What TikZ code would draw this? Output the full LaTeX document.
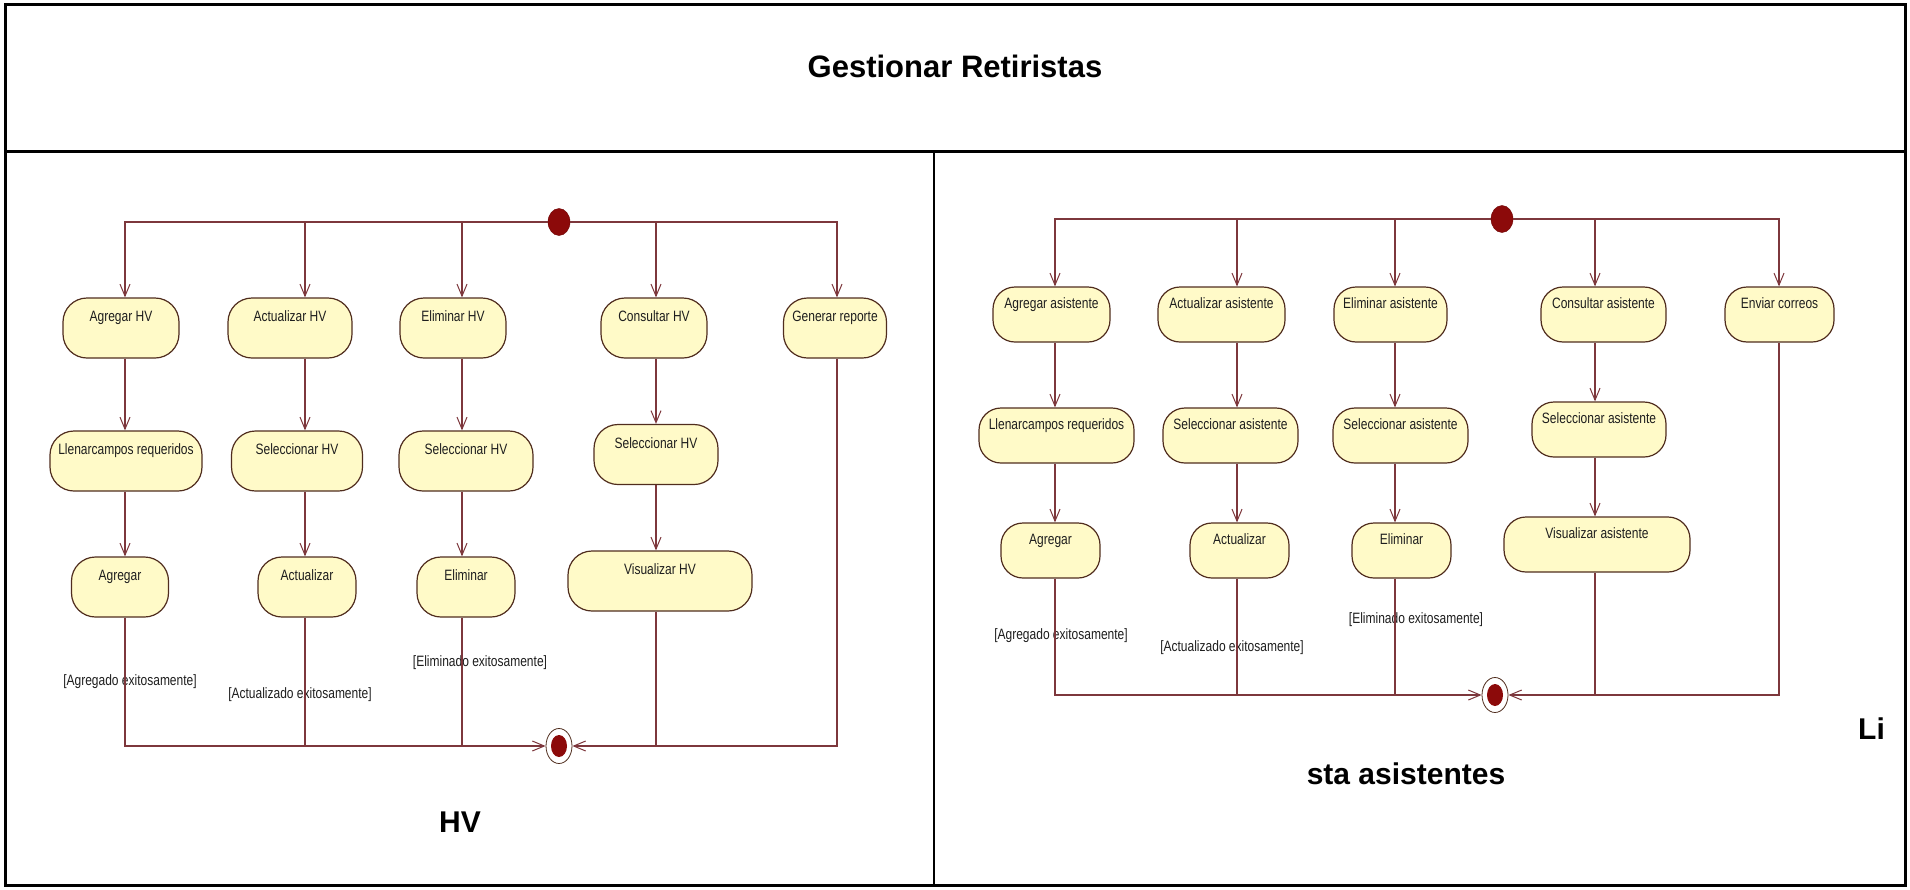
\documentclass[tikz,border=0pt]{standalone}
\usepackage{fontspec}
\setmainfont{Liberation Sans}
\newfontfamily\umlfont[FakeStretch=0.8]{Liberation Sans}
\usetikzlibrary{arrows.meta,shapes.geometric}
\definecolor{boxfill}{RGB}{255,250,200}
\definecolor{boxdraw}{RGB}{80,45,30}
\definecolor{flowc}{RGB}{125,55,60}
\definecolor{startc}{RGB}{140,10,10}
\definecolor{textc}{RGB}{30,30,30}
\tikzset{
  flow/.style={draw=flowc, line width=1.1pt},
  arr/.style={-{Straight Barb[length=12pt,width=10pt,line width=1pt]}},
  actL/.style={draw=boxdraw, fill=boxfill, line width=1.2pt, rounded corners=24pt,
    inner xsep=0pt, inner ysep=0pt, text height=23.5pt, text depth=36.5pt,
    font={\umlfont\fontsize{15}{18}\selectfont}, text=textc},
  actR/.style={actL, rounded corners=22pt, text height=21.5pt, text depth=33.5pt},
  guard/.style={inner sep=0pt, font={\umlfont\fontsize{15}{18}\selectfont}, text=textc},
  startnode/.style={ellipse, fill=startc, draw=startc!80!black, minimum width=22pt,
    minimum height=27pt, inner sep=0pt},
  endnode/.style={ellipse, draw=boxdraw, fill=white, line width=0.8pt, minimum width=26pt,
    minimum height=35pt, inner sep=0pt,
    path picture={\fill[startc] (path picture bounding box.center) ellipse (8pt and 11pt);}},
  big/.style={inner sep=0pt, font={\bfseries\fontsize{30}{36}\selectfont}},
  frameline/.style={draw=black, line width=3pt},
}
\begin{document}
\begin{tikzpicture}[x=1pt,y=-1pt]
\useasboundingbox (0,0) rectangle (1910,889);
% frame
\draw[frameline] (5,4) rectangle (1905,885);
\draw[frameline] (5,151) -- (1905,151);
\draw[draw=black, line width=1.5pt] (934,151) -- (934,885);
\node[big, font={\bfseries\fontsize{31}{36}\selectfont}] (title) at (955,66) {Gestionar Retiristas};

% ---------------- left diagram ----------------
\coordinate (c1) at (125,0);
\coordinate (c2) at (305,0);
\coordinate (c3) at (462,0);
\coordinate (c4) at (656,0);
\coordinate (c5) at (837,0);
\node[startnode] (i1) at (559,222) {};
\node[actL, minimum width=116pt] (a1) at (121,328) {Agregar HV};
\node[actL, minimum width=124pt] (a2) at (290,328) {Actualizar HV};
\node[actL, minimum width=106pt] (a3) at (453,328) {Eliminar HV};
\node[actL, minimum width=106pt] (a4) at (654,328) {Consultar HV};
\node[actL, minimum width=103pt] (a5) at (835,328) {Generar reporte};
\node[actL, minimum width=152pt] (b1) at (126,461) {Llenarcampos requeridos};
\node[actL, minimum width=131pt] (b2) at (297,461) {Seleccionar HV};
\node[actL, minimum width=134pt] (b3) at (466,461) {Seleccionar HV};
\node[actL, minimum width=124pt] (b4) at (656,454.5) {Seleccionar HV};
\node[actL, minimum width=97pt] (d1) at (120,587) {Agregar};
\node[actL, minimum width=98pt] (d2) at (307,587) {Actualizar};
\node[actL, minimum width=98pt] (d3) at (466,587) {Eliminar};
\node[actL, minimum width=184pt] (d4) at (660,581) {Visualizar HV};
\node[endnode] (f1) at (559,746) {};
\node[guard] (g1) at (130,682) {[Agregado exitosamente]};
\node[guard] (g2) at (300,695) {[Actualizado exitosamente]};
\node[guard] (g3) at (480,663) {[Eliminado exitosamente]};

\draw[flow,arr] (i1.west) -| (a1.north -| c1);
\draw[flow,arr] (i1.west) -| (a2.north -| c2);
\draw[flow,arr] (i1.west) -| (a3.north -| c3);
\draw[flow,arr] (i1.east) -| (a4.north -| c4);
\draw[flow,arr] (i1.east) -| (a5.north -| c5);
\draw[flow,arr] (a1.south -| c1) -- (b1.north -| c1);
\draw[flow,arr] (a2.south -| c2) -- (b2.north -| c2);
\draw[flow,arr] (a3.south -| c3) -- (b3.north -| c3);
\draw[flow,arr] (a4.south -| c4) -- (b4.north -| c4);
\draw[flow,arr] (b1.south -| c1) -- (d1.north -| c1);
\draw[flow,arr] (b2.south -| c2) -- (d2.north -| c2);
\draw[flow,arr] (b3.south -| c3) -- (d3.north -| c3);
\draw[flow,arr] (b4.south -| c4) -- (d4.north -| c4);
\draw[flow,arr] (d1.south -| c1) |- (f1.west);
\draw[flow] (d2.south -| c2) -- (f1.west -| c2);
\draw[flow] (d3.south -| c3) -- (f1.west -| c3);
\draw[flow] (d4.south -| c4) -- (f1.east -| c4);
\draw[flow,arr] (a5.south -| c5) |- (f1.east);
\node[big] (hv) at (460,822) {HV};

% ---------------- right diagram ----------------
\coordinate (r1) at (1055,0);
\coordinate (r2) at (1237,0);
\coordinate (r3) at (1395,0);
\coordinate (r4) at (1595,0);
\coordinate (r5) at (1779,0);
\node[startnode] (i2) at (1502,219) {};
\node[actR, minimum width=117pt] (p1) at (1051.5,314.5) {Agregar asistente};
\node[actR, minimum width=127pt] (p2) at (1221.5,314.5) {Actualizar asistente};
\node[actR, minimum width=113pt] (p3) at (1390.5,314.5) {Eliminar asistente};
\node[actR, minimum width=125pt] (p4) at (1603.5,314.5) {Consultar asistente};
\node[actR, minimum width=109pt] (p5) at (1779.5,314.5) {Enviar correos};
\node[actR, minimum width=155pt] (q1) at (1056.5,435.5) {Llenarcampos requeridos};
\node[actR, minimum width=135pt] (q2) at (1230.5,435.5) {Seleccionar asistente};
\node[actR, minimum width=135pt] (q3) at (1400.5,435.5) {Seleccionar asistente};
\node[actR, minimum width=134pt] (q4) at (1599,429.5) {Seleccionar asistente};
\node[actR, minimum width=99pt] (s1) at (1050.5,550.5) {Agregar};
\node[actR, minimum width=99pt] (s2) at (1239.5,550.5) {Actualizar};
\node[actR, minimum width=99pt] (s3) at (1401.5,550.5) {Eliminar};
\node[actR, minimum width=186pt] (s4) at (1597,544.5) {Visualizar asistente};
\node[endnode] (f2) at (1495,695) {};
\node[guard] (h1) at (1061,636) {[Agregado exitosamente]};
\node[guard] (h2) at (1232,648) {[Actualizado exitosamente]};
\node[guard] (h3) at (1416,620) {[Eliminado exitosamente]};

\draw[flow,arr] (i2.west) -| (p1.north -| r1);
\draw[flow,arr] (i2.west) -| (p2.north -| r2);
\draw[flow,arr] (i2.west) -| (p3.north -| r3);
\draw[flow,arr] (i2.east) -| (p4.north -| r4);
\draw[flow,arr] (i2.east) -| (p5.north -| r5);
\draw[flow,arr] (p1.south -| r1) -- (q1.north -| r1);
\draw[flow,arr] (p2.south -| r2) -- (q2.north -| r2);
\draw[flow,arr] (p3.south -| r3) -- (q3.north -| r3);
\draw[flow,arr] (p4.south -| r4) -- (q4.north -| r4);
\draw[flow,arr] (q1.south -| r1) -- (s1.north -| r1);
\draw[flow,arr] (q2.south -| r2) -- (s2.north -| r2);
\draw[flow,arr] (q3.south -| r3) -- (s3.north -| r3);
\draw[flow,arr] (q4.south -| r4) -- (s4.north -| r4);
\draw[flow,arr] (s1.south -| r1) |- (f2.west);
\draw[flow] (s2.south -| r2) -- (f2.west -| r2);
\draw[flow] (s3.south -| r3) -- (f2.west -| r3);
\draw[flow] (s4.south -| r4) -- (f2.east -| r4);
\draw[flow,arr] (p5.south -| r5) |- (f2.east);
\node[big, anchor=west] (li) at (1858,729) {Li};
\node[big] (sta) at (1406,774) {sta asistentes};
\end{tikzpicture}
\end{document}
